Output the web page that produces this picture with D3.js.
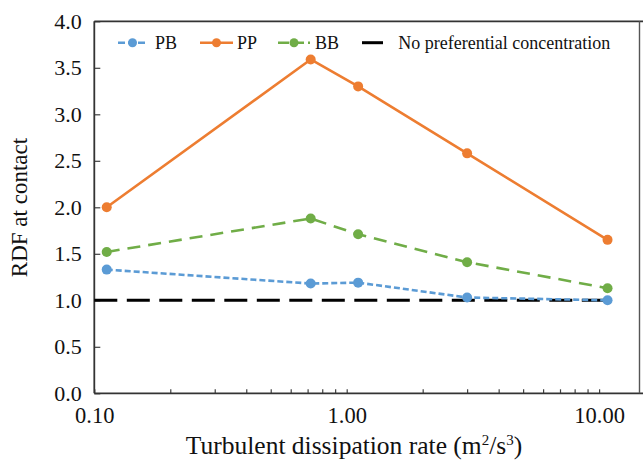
<!DOCTYPE html>
<html>
<head>
<meta charset="utf-8">
<script src="https://cdn.jsdelivr.net/npm/d3@7"></script>
<style>
  html, body { margin: 0; padding: 0; background: #fff; }
  svg { display: block; font-family: "Liberation Serif", "Times New Roman", serif; }
</style>
</head>
<body>
<svg id="chart" width="643" height="460"></svg>
<script>
// Dissipation rates (m^2/s^3) at which the RDF was evaluated
const dissipation = [0.112, 0.72, 1.11, 3.0, 10.8];
// RDF at contact for each pair type
const rdfPB = [1.33, 1.18, 1.19, 1.03, 1.00];
const rdfPP = [2.00, 3.59, 3.30, 2.58, 1.65];
const rdfBB = [1.52, 1.88, 1.71, 1.41, 1.13];
// Reference level for a uniform distribution
const referenceLevel = 1.0;
const seriesNames = ["PB", "PP", "BB"];
const referenceName = "No preferential concentration";
const yTickValues = [0, 0.5, 1, 1.5, 2, 2.5, 3, 3.5, 4];
const xLabelValues = [0.1, 1, 10];

const svg = d3.select("#chart");
const plotLeft = 94.3, plotRight = 639.5, plotTop = 21.3, plotBottom = 393.3;

const x = d3.scaleLog().domain([0.1, 10]).range([plotLeft, 599.1]);
const y = d3.scaleLinear().domain([0, 4]).range([plotBottom, plotTop]);

const styles = {
  PB: { color: "#5B9BD5", dash: "6,3", width: 2.6 },
  PP: { color: "#ED7D31", dash: null, width: 2.6 },
  BB: { color: "#70AD47", dash: "13,8", width: 2.6 }
};
const seriesData = { PB: rdfPB, PP: rdfPP, BB: rdfBB };

// Y axis with inward ticks
const yAxis = d3.axisLeft(y).tickValues(yTickValues).tickFormat(d3.format(".1f"))
  .tickSize(-6).tickPadding(12.6);
const gy = svg.append("g").attr("transform", `translate(${plotLeft},0)`).call(yAxis);
gy.select(".domain").remove();
gy.selectAll(".tick line").attr("stroke", "#404040").attr("stroke-width", 1.2);
gy.selectAll(".tick text").attr("font-size", 22).attr("fill", "#111")
  .attr("font-family", "Liberation Serif");

// X axis: log ticks, labelled only at decades
const minorTicks = x.ticks().concat([20, 30, 40]).filter(v => v >= 0.1);
const xAxis = d3.axisBottom(x).tickValues(minorTicks)
  .tickFormat(v => xLabelValues.some(m => Math.abs(m - v) < 1e-9) ? d3.format(".2f")(v) : "")
  .tickSize(-4).tickPadding(14);
const gx = svg.append("g").attr("transform", `translate(0,${plotBottom})`).call(xAxis);
gx.select(".domain").remove();
gx.selectAll(".tick").filter(v => x(v) > plotRight).remove();
gx.selectAll(".tick line").attr("stroke", "#404040").attr("stroke-width", 1.2);
gx.selectAll(".tick text").attr("font-size", 22.5).attr("fill", "#111")
  .attr("font-family", "Liberation Serif");

// Plot frame
const frame = svg.append("g").attr("stroke", "#333").attr("stroke-width", 1.8).attr("fill", "none");
frame.append("line").attr("x1", plotLeft).attr("x2", 643).attr("y1", plotBottom).attr("y2", plotBottom);
frame.append("line").attr("x1", plotLeft).attr("x2", 643).attr("y1", plotTop).attr("y2", plotTop);
frame.append("line").attr("x1", plotLeft).attr("x2", plotLeft).attr("y1", plotTop).attr("y2", plotBottom);
frame.append("line").attr("x1", plotRight).attr("x2", plotRight).attr("y1", plotTop).attr("y2", plotBottom)
  .attr("stroke", "#555").attr("stroke-width", 1.4);

// Reference line
svg.append("line")
  .attr("x1", x(0.1)).attr("x2", x(dissipation[dissipation.length - 1]))
  .attr("y1", y(referenceLevel)).attr("y2", y(referenceLevel))
  .attr("stroke", "#000").attr("stroke-width", 3).attr("stroke-dasharray", "23,9.5");

// Series lines and markers
const line = d3.line().x(d => x(d[0])).y(d => y(d[1]));
["PB", "BB", "PP"].forEach(name => {
  const st = styles[name];
  const pts = dissipation.map((d, i) => [d, seriesData[name][i]]);
  svg.append("path").datum(pts).attr("d", line)
    .attr("fill", "none").attr("stroke", st.color).attr("stroke-width", st.width)
    .attr("stroke-dasharray", st.dash).attr("stroke-linejoin", "round");
  svg.append("g").selectAll("circle").data(pts).join("circle")
    .attr("cx", d => x(d[0])).attr("cy", d => y(d[1])).attr("r", 5)
    .attr("fill", st.color);
});

// Legend
const legendY = 42.7;
const legendItems = [
  { name: seriesNames[0], x0: 118, x1: 147, tx: 155 },
  { name: seriesNames[1], x0: 200, x1: 233, tx: 237 },
  { name: seriesNames[2], x0: 278, x1: 310, tx: 315 }
];
const lg = svg.append("g");
legendItems.forEach(it => {
  const st = styles[it.name];
  lg.append("line").attr("x1", it.x0).attr("x2", it.x1).attr("y1", legendY).attr("y2", legendY)
    .attr("stroke", st.color).attr("stroke-width", st.width)
    .attr("stroke-dasharray", st.dash ? (it.name === "PB" ? "7,3" : "11,4") : null);
  lg.append("circle").attr("cx", (it.x0 + it.x1) / 2).attr("cy", legendY).attr("r", 4.5).attr("fill", st.color);
  lg.append("text").attr("x", it.tx).attr("y", legendY).attr("dy", "0.35em")
    .attr("font-size", 18).attr("fill", "#111").text(it.name);
});
lg.append("line").attr("x1", 362).attr("x2", 383).attr("y1", legendY).attr("y2", legendY)
  .attr("stroke", "#000").attr("stroke-width", 3);
lg.append("text").attr("x", 398.3).attr("y", legendY).attr("dy", "0.35em")
  .attr("font-size", 18).attr("fill", "#111").text(referenceName);

// Axis titles
const xt = svg.append("text").attr("x", 354).attr("y", 454).attr("text-anchor", "middle")
  .attr("font-size", 25.5).attr("fill", "#111");
xt.append("tspan").text("Turbulent dissipation rate (m");
xt.append("tspan").attr("font-size", 15).attr("dy", -9).text("2");
xt.append("tspan").attr("dy", 9).text("/s");
xt.append("tspan").attr("font-size", 15).attr("dy", -9).text("3");
xt.append("tspan").attr("dy", 9).text(")");

svg.append("text").attr("transform", "translate(27,207.5) rotate(-90)")
  .attr("text-anchor", "middle").attr("font-size", 23).attr("fill", "#111")
  .text("RDF at contact");
</script>
</body>
</html>
